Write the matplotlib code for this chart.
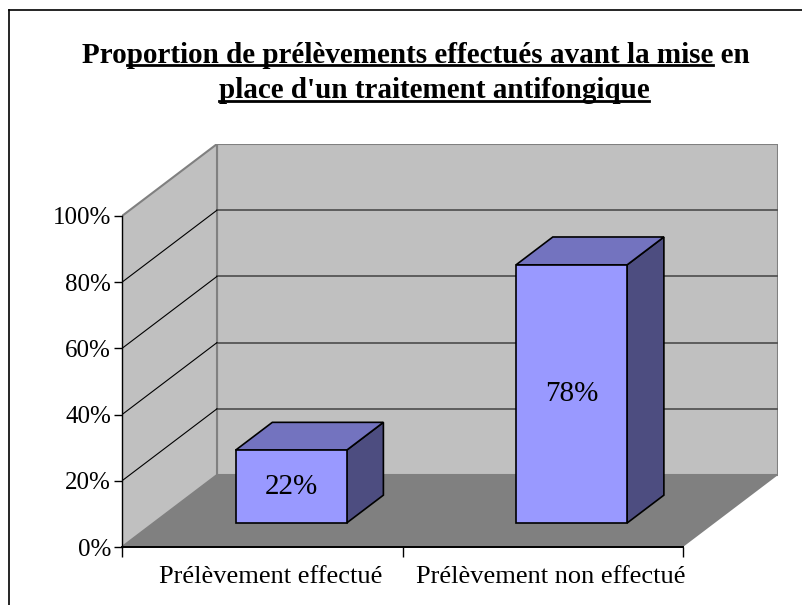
import matplotlib
matplotlib.use("Agg")
import matplotlib.pyplot as plt
from matplotlib.patches import Polygon
from matplotlib.lines import Line2D

plt.rcParams['font.family'] = ['Liberation Serif', 'DejaVu Serif']

title_lines = ["Proportion de prélèvements effectués avant la mise en",
               "place d'un traitement antifongique"]
categories = ["Prélèvement effectué", "Prélèvement non effectué"]
values = [22, 78]
yticks = [0, 20, 40, 60, 80, 100]

W, H = 803, 605
fig = plt.figure(figsize=(W / 100, H / 100), dpi=100)


def fx(px):
    return px / W


def fy(py):
    return 1 - py / H


# front 0% corner of the plot, pixel scale, and 3d depth offset
x0, y0 = 122, 547
sx, sy = 280.5, 3.31
dpx, dpy = 95, 72
DX, DY = dpx / sx, dpy / sy

ax = fig.add_axes([fx(x0), fy(y0), (2 * sx + dpx) / W, (100 * sy + dpy) / H])
ax.set_xlim(0, 2 + DX)
ax.set_ylim(0, 100 + DY)
ax.patch.set_visible(False)

# walls and floor
ax.add_patch(Polygon([(DX, DY), (2 + DX, DY), (2 + DX, 100 + DY), (DX, 100 + DY)],
                     fc='#c0c0c0', ec='#808080', lw=1.5, zorder=1))
ax.add_patch(Polygon([(0, 0), (DX, DY), (DX, 100 + DY), (0, 100)],
                     fc='#c0c0c0', ec='#808080', lw=1.5, zorder=1))
ax.add_patch(Polygon([(0, 0), (2, 0), (2 + DX, DY), (DX, DY)],
                     fc='#808080', ec='none', zorder=1.5))
for v in yticks[1:-1]:
    ax.plot([DX, 2 + DX], [v + DY] * 2, color='#555555', lw=1.3, zorder=2)
    ax.plot([0, DX], [v, v + DY], color='black', lw=0.8, zorder=2)

# bars
d0, d1 = 1 / 3, 0.72
half = 0.198
ox0, oy0 = d0 * DX, d0 * DY
ox1, oy1 = d1 * DX, d1 * DY
for i, v in enumerate(values):
    xc = i + 0.49
    xl, xr = xc - half, xc + half
    side = [(xr + ox0, oy0), (xr + ox1, oy1), (xr + ox1, v + oy1), (xr + ox0, v + oy0)]
    top = [(xl + ox0, v + oy0), (xr + ox0, v + oy0), (xr + ox1, v + oy1), (xl + ox1, v + oy1)]
    front = [(xl + ox0, oy0), (xr + ox0, oy0), (xr + ox0, v + oy0), (xl + ox0, v + oy0)]
    ax.add_patch(Polygon(side, fc='#4d4d80', ec='black', lw=1.2, zorder=3))
    ax.add_patch(Polygon(top, fc='#7373bf', ec='black', lw=1.2, zorder=3))
    ax.add_patch(Polygon(front, fc='#9999ff', ec='black', lw=1.2, zorder=3))
    ax.text(xc + ox0, oy0 + v / 2, f"{v}%", ha='center', va='center',
            fontsize=21, zorder=4)

# axes
for s in ['top', 'right']:
    ax.spines[s].set_visible(False)
ax.spines['left'].set_bounds(0, 100)
ax.spines['bottom'].set_bounds(0, 2)
ax.spines['left'].set_linewidth(1.0)
ax.spines['bottom'].set_linewidth(1.4)
ax.spines['left'].set_zorder(5)
ax.spines['bottom'].set_zorder(5)
ax.set_yticks(yticks)
ax.set_yticklabels([f"{t}%" for t in yticks])
ax.tick_params(axis='y', labelsize=18, length=6, width=1, pad=2)
ax.set_xticks([i + 0.53 for i in range(len(categories))])
ax.set_xticklabels(categories)
ax.set_xticks(range(len(categories) + 1), minor=True)
ax.tick_params(axis='x', which='major', length=0, labelsize=19, pad=14)
ax.tick_params(axis='x', which='minor', length=7, width=1)

# title with partial underline
props = dict(fontsize=21, fontweight='bold')
t1 = fig.text(fx(416), fy(63), title_lines[0], ha='center', va='baseline', **props)
t2 = fig.text(fx(434), fy(98), title_lines[1], ha='center', va='baseline', **props)
r = fig.canvas.get_renderer()


def text_w(s):
    t = fig.text(0, 0, s, **props)
    w = t.get_window_extent(r).width
    t.remove()
    return w


b1 = t1.get_window_extent(r)
u_start = b1.x0 + text_w("Pro")
u_end = b1.x0 + text_w(title_lines[0][:title_lines[0].index("mise") + 4])
fig.add_artist(Line2D([u_start / W, u_end / W], [fy(65)] * 2, color='black', lw=2))
b2 = t2.get_window_extent(r)
fig.add_artist(Line2D([b2.x0 / W, b2.x1 / W], [fy(101)] * 2, color='black', lw=2))

# chart frame
fig.add_artist(Line2D([fx(9), 1.0], [fy(10)] * 2, color='black', lw=1.2))
fig.add_artist(Line2D([fx(9)] * 2, [fy(10), 0.0], color='black', lw=1.2))

fig.savefig("out.png", dpi=100)
